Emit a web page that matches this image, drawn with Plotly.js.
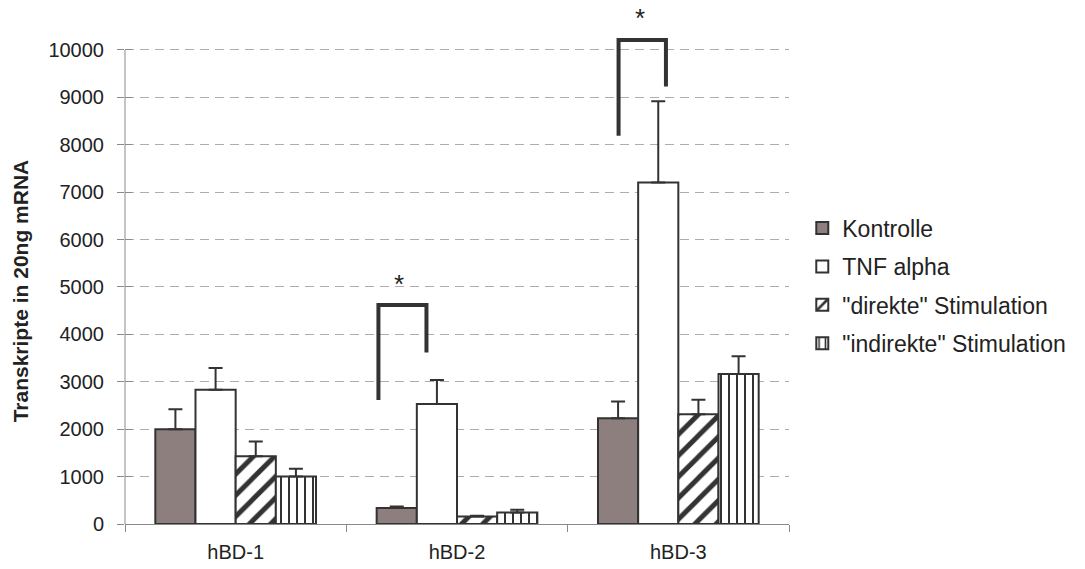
<!DOCTYPE html>
<html>
<head>
<meta charset="utf-8">
<script src="https://cdn.plot.ly/plotly-3.0.1.min.js"></script>
<style>html,body{margin:0;padding:0;background:#fff;}#chart{width:1085px;height:569px;}</style>
</head>
<body>
<div id="chart"></div>
<script>
// ---- data ----
var categories = ["hBD-1", "hBD-2", "hBD-3"];
var seriesNames = ["Kontrolle", "TNF alpha", "\"direkte\" Stimulation", "\"indirekte\" Stimulation"];
var kontrolle = [2000, 336, 2230];
var kontrolleErr = [420, 35, 353];
var tnfAlpha = [2830, 2530, 7205];
var tnfAlphaErr = [460, 505, 1712];
var direkte = [1430, 160, 2317];
var direkteErr = [310, 15, 302];
var indirekte = [1000, 245, 3165];
var indirekteErr = [167, 55, 375];
var yTicks = [0, 1000, 2000, 3000, 4000, 5000, 6000, 7000, 8000, 9000, 10000];
// significance brackets: group index, left/right bottom levels, top level, star level
var bracketGroup = [1, 2];
var bracketLeftLow = [2615, 8190];
var bracketTop = [4620, 10210];
var bracketRightLow = [3615, 9230];
var starLevel = [5125, 10730];

// ---- styles ----
var dark = "#333333";
var font = "Liberation Sans, Arial, Helvetica, sans-serif";
var yMax = 10800;
var values = [kontrolle, tnfAlpha, direkte, indirekte];
var errs = [kontrolleErr, tnfAlphaErr, direkteErr, indirekteErr];
var markers = [
  {color: "#8c7f7d", line: {color: dark, width: 2}},
  {color: "#ffffff", line: {color: dark, width: 2}},
  {color: "#ffffff", line: {color: dark, width: 2},
   pattern: {shape: "/", size: 15, solidity: 0.33, fgcolor: dark, bgcolor: "#ffffff", fillmode: "replace"}},
  {color: "#ffffff", line: {color: dark, width: 2},
   pattern: {shape: "|", size: 8, solidity: 0.25, fgcolor: dark, bgcolor: "#ffffff", fillmode: "replace"}}
];

var traces = [];
for (var i = 0; i < seriesNames.length; i++) {
  traces.push({
    type: "bar",
    name: seriesNames[i],
    legendgroup: "g" + i,
    x: categories,
    y: values[i],
    marker: markers[i],
    error_y: {type: "data", symmetric: false, array: errs[i],
              arrayminus: errs[i].map(function(){return 0;}),
              color: dark, thickness: 2, width: 7},
    hoverinfo: "x+y+name"
  });
}
// dummy trace so the overlaid tick axis is drawn
traces.push({type: "scatter", x: [categories[0]], y: [null], yaxis: "y2",
             showlegend: false, hoverinfo: "skip", mode: "lines"});

// bracket offsets relative to category centre (in category units)
var brLeftOff = [-0.355, -0.27];
var brRightOff = [-0.138, -0.056];
var starOff = [-0.26, -0.173];

var shapes = [];
var annotations = [];
for (var b = 0; b < bracketGroup.length; b++) {
  var g = bracketGroup[b];
  var xl = g + brLeftOff[b], xr = g + brRightOff[b];
  shapes.push({type: "path", xref: "x", yref: "y",
    path: "M" + xl + "," + bracketLeftLow[b] + " L" + xl + "," + bracketTop[b] +
          " L" + xr + "," + bracketTop[b] + " L" + xr + "," + bracketRightLow[b],
    line: {color: dark, width: 4}, layer: "above"});
  annotations.push({xref: "x", yref: "y", x: g + starOff[b], y: starLevel[b],
    text: "*", showarrow: false, yshift: -3,
    font: {family: font, size: 26, color: "#222"}});
}
// y axis line from 0 to 10000
shapes.push({type: "line", xref: "paper", yref: "y", x0: 0, x1: 0,
  y0: yTicks[0], y1: yTicks[yTicks.length - 1], line: {color: "#8a8a8a", width: 1}, layer: "above"});
// y axis title
annotations.push({xref: "paper", yref: "paper", x: -0.178, y: 0.455,
  text: "<b>Transkripte in 20ng mRNA</b>", textangle: -90, showarrow: false,
  font: {family: font, size: 21, color: "#222"}});

var layout = {
  width: 1085, height: 569,
  margin: {l: 125, r: 296, t: 12, b: 45},
  paper_bgcolor: "#ffffff", plot_bgcolor: "#ffffff",
  font: {family: font, color: "#222"},
  barmode: "group", bargap: 0.274, bargroupgap: 0,
  showlegend: true,
  legend: {x: 1.02, xanchor: "left", y: 0.62, yanchor: "top",
           font: {family: font, size: 23, color: "#222"},
           tracegroupgap: 5.5, bgcolor: "rgba(0,0,0,0)"},
  xaxis: {type: "category", showgrid: false, zeroline: false,
          showline: true, linecolor: "#8a8a8a", linewidth: 1,
          ticks: "outside", tickson: "boundaries", ticklen: 7, tickcolor: "#8a8a8a",
          tickfont: {family: font, size: 20, color: "#222"}, ticklabelstandoff: 10,
          fixedrange: true},
  yaxis: {range: [0, yMax], tickvals: yTicks, ticktext: yTicks.map(String),
          showline: false, zeroline: false,
          showgrid: true, gridcolor: "#b5aaaa", gridwidth: 1, griddash: "9px,6px",
          ticks: "outside", ticklen: 7, tickcolor: "#8a8a8a",
          tickfont: {family: font, size: 20, color: "#222"}, ticklabelstandoff: 9,
          fixedrange: true},
  yaxis2: {overlaying: "y", side: "left", anchor: "x", range: [0, yMax], tickvals: yTicks,
           showticklabels: false, showgrid: false, zeroline: false, showline: false,
           ticks: "inside", ticklen: 7, tickcolor: "#8a8a8a", fixedrange: true},
  shapes: shapes,
  annotations: annotations
};

Plotly.newPlot("chart", traces, layout, {displayModeBar: false, staticPlot: true});
</script>
</body>
</html>
